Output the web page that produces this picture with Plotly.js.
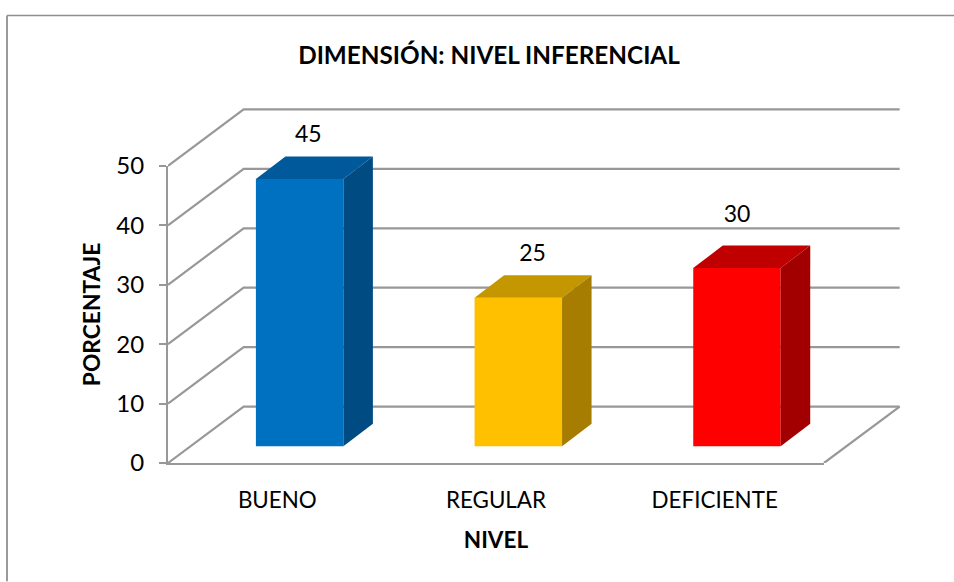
<!DOCTYPE html>
<html>
<head>
<meta charset="utf-8">
<script src="https://cdn.plot.ly/plotly-3.0.1.min.js"></script>
<style>html,body{margin:0;padding:0;background:#fff}#chart{width:954px;height:582px}</style>
</head>
<body>
<div id="chart"></div>
<script>
const categories = ["BUENO", "REGULAR", "DEFICIENTE"];
const values = [45, 25, 30];
const frontColors = ["#0070C0", "#FFC000", "#FF0000"];
const topColors = ["#00599A", "#C49600", "#C00000"];
const sideColors = ["#004B82", "#A67D00", "#A20000"];
const yTicks = [0, 10, 20, 30, 40, 50];

// Pseudo-3D projection, in axis units
const wallDx = 0.346, wallDy = 9.5;      // back wall offset
const barDx = 0.135, barDy = 3.8;        // bar depth
const barBase = 2.8, barShift = 0.102, barWidth = 0.4;
const labelNudgeX = [0.04, 0.065, 0], labelNudgeY = [7.15, 7.1, 8.8];
const GRID = "#989898", FONT = "Lato, Carlito, 'Open Sans', sans-serif";
// Plot box holds the whole 3D box; the visible axes occupy its front part.
const PX = 218.667, PY = 5.95, W = 746, H = 363.5;
const xMax = -0.5 + W / PX, yMax = H / PY;

const gridX = [], gridY = [];
yTicks.forEach(t => {
  gridX.push(-0.5, -0.5 + wallDx, 2.5 + wallDx, null);
  gridY.push(t, t + wallDy, t + wallDy, null);
});
const traces = [
  // carries the visible axes (no visible marks of its own)
  {x: categories.map((c, i) => i), y: values, mode: "markers", marker: {opacity: 0}, hoverinfo: "skip", showlegend: false},
  {xaxis: "x2", yaxis: "y2", x: gridX, y: gridY, mode: "lines", line: {color: GRID, width: 2.2}, hoverinfo: "skip", showlegend: false},
  {xaxis: "x2", yaxis: "y2", x: [2.5, 2.5 + wallDx], y: [0, wallDy], mode: "lines", line: {color: GRID, width: 2.2}, hoverinfo: "skip", showlegend: false},
  {type: "bar", xaxis: "x3", yaxis: "y3", x: categories.map((c, i) => i + barShift), y: values,
   base: values.map(() => barBase), width: barWidth, marker: {color: frontColors, line: {width: 0}},
   hovertext: categories, showlegend: false}
];
values.forEach((v, i) => {
  const l = i + barShift - barWidth / 2, r = i + barShift + barWidth / 2, b = barBase, t = barBase + v;
  traces.push({xaxis: "x3", yaxis: "y3", mode: "lines", fill: "toself", fillcolor: topColors[i], line: {width: 0, color: topColors[i]},
    x: [l, r, r + barDx, l + barDx, l], y: [t, t, t + barDy, t + barDy, t], hoverinfo: "skip", showlegend: false});
  traces.push({xaxis: "x3", yaxis: "y3", mode: "lines", fill: "toself", fillcolor: sideColors[i], line: {width: 0, color: sideColors[i]},
    x: [r, r + barDx, r + barDx, r, r], y: [b, b + barDy, t + barDy, t, b], hoverinfo: "skip", showlegend: false});
});
traces.push({xaxis: "x3", yaxis: "y3", mode: "text", x: values.map((v, i) => i + barShift + labelNudgeX[i]),
  y: values.map((v, i) => barBase + v + labelNudgeY[i]), text: values.map(String), textposition: "middle center",
  textfont: {family: FONT, size: 23, color: "#000"}, hoverinfo: "skip", showlegend: false});

const hidden = (extra) => Object.assign({visible: false, fixedrange: true}, extra);
const layout = {
  width: 954, height: 582, paper_bgcolor: "#fff", plot_bgcolor: "rgba(0,0,0,0)", showlegend: false,
  margin: {l: 168, r: 40, t: 100, b: 118.5, pad: 0}, font: {family: FONT, color: "#000"},
  title: {text: "<b>DIMENSIÓN: NIVEL INFERENCIAL</b>", font: {family: FONT, size: 24.3, color: "#000"},
          xref: "container", yref: "container", x: 489 / 954, y: 1 - 55 / 582, xanchor: "center", yanchor: "middle"},
  xaxis: {domain: [0, 656 / W], range: [-0.5, 2.5], tickmode: "array", tickvals: [0, 1, 2], ticktext: categories, showgrid: false, zeroline: false,
          showline: true, linecolor: GRID, linewidth: 2, ticks: "outside", ticklen: 16, tickcolor: "rgba(0,0,0,0)",
          tickfont: {family: FONT, size: 22.4, color: "#000"},
          title: {text: "<b>NIVEL</b>", font: {family: FONT, size: 22.5, color: "#000"}, standoff: 20}},
  yaxis: {domain: [0, 297.5 / H], range: [0, 50], tickmode: "array", tickvals: yTicks, showgrid: false, zeroline: false,
          showline: true, linecolor: GRID, linewidth: 2, ticks: "outside", ticklen: 7, tickwidth: 2, tickcolor: GRID,
          ticklabelstandoff: 10, tickfont: {family: FONT, size: 24, color: "#000"},
          title: {text: "<b>PORCENTAJE</b>", font: {family: FONT, size: 22.8, color: "#000"}, standoff: 9}},
  xaxis2: hidden({domain: [0, 1], range: [-0.5, xMax], anchor: "y2"}),
  yaxis2: hidden({domain: [0, 1], range: [0, yMax], anchor: "x2"}),
  xaxis3: hidden({overlaying: "x2", range: [-0.5, xMax], anchor: "y3"}),
  yaxis3: hidden({overlaying: "y2", range: [0, yMax], anchor: "x3"}),
  shapes: [
    {type: "line", xref: "paper", yref: "paper", x0: (7 - 168) / W, x1: (954 - 168) / W, y0: (463.5 - 15.5) / H, y1: (463.5 - 15.5) / H, line: {color: "#8e8e8e", width: 1.5}},
    {type: "line", xref: "paper", yref: "paper", x0: (7 - 168) / W, x1: (7 - 168) / W, y0: (463.5 - 15.5) / H, y1: (463.5 - 582) / H, line: {color: "#9a9a9a", width: 2}}
  ]
};
Plotly.newPlot("chart", traces, layout, {displayModeBar: false, responsive: false});
</script>
</body>
</html>
